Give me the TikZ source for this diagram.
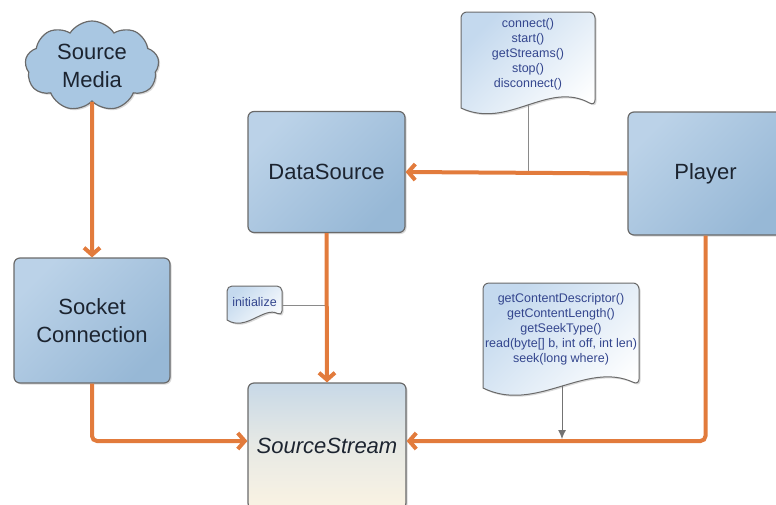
\documentclass[tikz,border=0pt]{standalone}
\usepackage{fontspec}
\setmainfont{Liberation Sans}
\usetikzlibrary{arrows.meta,shapes.symbols,shadows,calc}

\definecolor{flow}{HTML}{E27B3C}
\definecolor{edge}{HTML}{6A6A6A}
\definecolor{ink}{HTML}{1C2430}
\definecolor{memoink}{HTML}{34468E}
\definecolor{blueA}{HTML}{BBD2E8}
\definecolor{blueB}{HTML}{97B8D6}
\definecolor{cloudfill}{HTML}{A9C7E2}
\definecolor{memoA}{HTML}{C4D9EE}
\definecolor{creamB}{HTML}{FAF3E3}
\definecolor{memoline}{HTML}{8A8A8A}

\tikzset{
  softshadow/.style={drop shadow={shadow xshift=1.5pt, shadow yshift=-1.5pt, opacity=0.25, fill=black!60}},
  box/.style={rectangle, rounded corners=6pt, draw=edge, line width=1.2pt,
    top color=blueA, bottom color=blueB, shading angle=45, softshadow,
    text=ink, align=center, inner sep=0pt,
    font=\fontsize{22}{28}\selectfont},
  streambox/.style={box, top color=blueA!80!creamB, bottom color=creamB, middle color=blueA!30!creamB},
  media/.style={cloud, cloud puffs=9, cloud puff arc=115, aspect=1.5,
    draw=edge, line width=1.2pt, fill=cloudfill, softshadow,
    minimum width=134pt, minimum height=90pt, inner sep=0pt,
    text=ink, align=center, font=\fontsize{22}{28}\selectfont},
  memo/.style={draw=edge, line width=1pt, top color=memoA, bottom color=white,
    shading angle=45, softshadow},
  memotext/.style={text=memoink, align=center, inner sep=0pt,
    font=\fontsize{12.5}{15}\selectfont},
  memoline/.style={draw=memoline, line width=0.9pt},
  flowline/.style={draw=flow, line width=4pt,
    -{Straight Barb[length=7pt,width=16pt]}},
}

\begin{document}
\begin{tikzpicture}[x=1pt,y=-1pt]
\useasboundingbox (0,0) rectangle (776,504);
\clip (0,0) rectangle (776,504);

% main components
\node[media] (src) at (92,66) {Source\\Media};
\node[box, minimum width=156pt, minimum height=125pt] (sock) at (92,320.5) {Socket\\Connection};
\node[box, minimum width=157pt, minimum height=121pt] (ds) at (326.5,172) {DataSource};
\node[box, minimum width=155pt, minimum height=123pt] (pl) at (705.5,173.5) {Player};
\node[streambox, minimum width=158pt, minimum height=126pt] (ss) at (327,446) {\itshape SourceStream};

% method notes (document shapes with a wavy lower edge)
\path[memo] (461,108) [rounded corners=6pt] -- (461,12) -- (595,12) -- (595,106)
  [sharp corners] .. controls (548,80) and (508,130) .. (461,108) -- cycle;
\node[memotext] (callsA) at (528,54) {connect()\\start()\\getStreams()\\stop()\\disconnect()};

\path[memo] (227,320) [rounded corners=5pt] -- (227,286) -- (282,286) -- (282,316)
  [sharp corners] .. controls (264,306) and (246,332) .. (227,320) -- cycle;
\node[memotext] (init) at (254.5,302) {initialize};

\path[memo] (483,388) [rounded corners=6pt] -- (483,283) -- (639,283) -- (639,385)
  [sharp corners] .. controls (586,360) and (536,414) .. (483,388) -- cycle;
\node[memotext] (callsB) at (561,329) {getContentDescriptor()\\getContentLength()\\getSeekType()\\read(byte[] b, int off, int len)\\seek(long where)};

% note leaders
\coordinate (tnb) at (528,105);
\draw[memoline] (tnb) -- (tnb |- ds.east);
\coordinate (inr) at (282,305);
\draw[memoline] (inr) -- (inr -| ds.south);
\coordinate (bnb) at (562,386);
\draw[memoline, -{Latex[length=9pt,width=8pt]}, fill=black!65, draw=black!55]
  (bnb) -- ([yshift=7pt]bnb |- ss.east);

% data flow
\draw[flowline] (src.south) -- (sock.north);
\draw[flowline] (pl.west) -- (ds.east);
\draw[flowline] (ds.south) -- (ss.north);
\draw[flowline, rounded corners=5pt] (sock.south) |- ([yshift=5pt]ss.west);
\draw[flowline, rounded corners=5pt] (pl.south) |- ([yshift=5pt]ss.east);
\end{tikzpicture}
\end{document}
